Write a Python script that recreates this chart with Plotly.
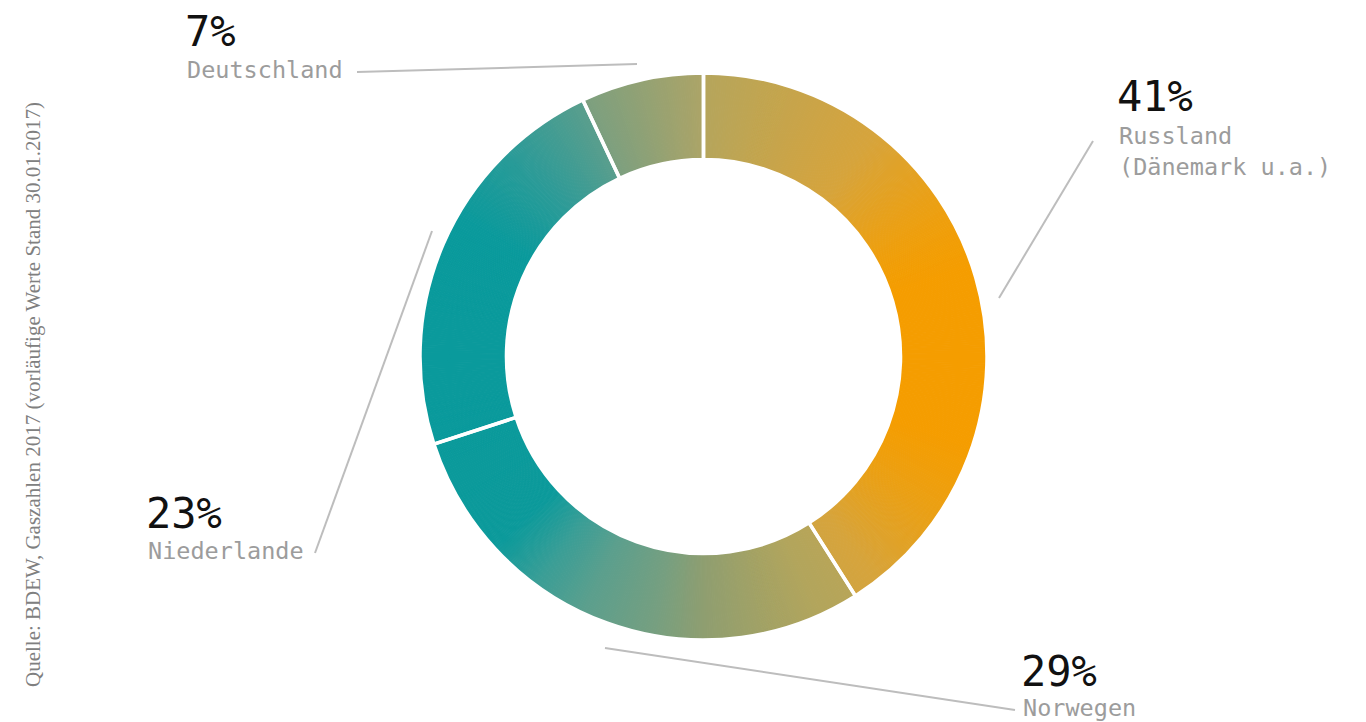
import plotly.graph_objects as go
import numpy as np

# ---- data ----
categories = ["Russland", "Norwegen", "Niederlande", "Deutschland"]
shares = [41, 29, 23, 7]
pct_labels = ["41%", "29%", "23%", "7%"]
name_labels = ["Russland<br>(Dänemark u.a.)", "Norwegen", "Niederlande", "Deutschland"]
source_text = "Quelle: BDEW, Gaszahlen 2017 (vorläufige Werte Stand 30.01.2017)"

# ---- style ----
W, H = 1366, 722
CX, CY, R = 703.5, 356.5, 283.5
HOLE = 0.695

# per-slice horizontal gradient stops: (dx in px from centre, colour)
grad_stops = {
    "Russland": [(0, "#b5a55c"), (147, "#d6a43c"), (200, "#eba014"), (228, "#f59d00"), (290, "#f59d00")],
    "Norwegen": [(-290, "#0a9a9c"), (-178, "#0c9a9b"), (-143, "#3a9e96"), (-103, "#5b9f8d"),
                 (-43, "#769f80"), (0, "#8f9e70"), (97, "#b2a55c"), (160, "#bea553")],
    "Niederlande": [(-290, "#0a9a9c"), (-210, "#0a9a9c"), (-160, "#2f9b97"), (-100, "#5c9e8c"), (-70, "#6e9e85")],
    "Deutschland": [(-130, "#6e9e86"), (0, "#aca467"), (10, "#aca467")],
}


def hex2rgb(h):
    h = h.lstrip("#")
    return np.array([int(h[i:i + 2], 16) for i in (0, 2, 4)], dtype=float)


def colour_at(cat, dx):
    st = grad_stops[cat]
    xs = [s[0] for s in st]
    cs = np.array([hex2rgb(s[1]) for s in st])
    rgb = [np.interp(dx, xs, cs[:, j]) for j in range(3)]
    return "rgb(%d,%d,%d)" % tuple(int(round(v)) for v in rgb)


# gradient layer: each share is rendered as many thin pieces (same total value)
SUB_PER_UNIT = 8
g_vals, g_cols = [], []
total = float(sum(shares))
cum = 0.0
rmid = R * (1 + HOLE) / 2
for cat, v in zip(categories, shares):
    n = int(v * SUB_PER_UNIT)
    piece = v / n
    for i in range(n):
        mid = cum + piece * (i + 0.5)
        theta = np.deg2rad(mid / total * 360.0)
        dx = rmid * np.sin(theta)
        g_vals.append(piece)
        g_cols.append(colour_at(cat, dx))
    cum += v

dom_x = [(CX - R) / W, (CX + R) / W]
dom_y = [1 - (CY + R) / H, 1 - (CY - R) / H]

fig = go.Figure()
fig.add_trace(go.Pie(
    values=g_vals, sort=False, direction="clockwise", rotation=0, hole=HOLE,
    marker=dict(colors=g_cols, line=dict(color=g_cols, width=1)),
    textinfo="none", hoverinfo="skip", showlegend=False,
    domain=dict(x=dom_x, y=dom_y),
))
fig.add_trace(go.Pie(
    labels=categories, values=shares, sort=False, direction="clockwise", rotation=0, hole=HOLE,
    marker=dict(colors=["rgba(0,0,0,0)"] * 4, line=dict(color="white", width=3.5)),
    textinfo="none", hoverinfo="label+percent", showlegend=False,
    domain=dict(x=dom_x, y=dom_y),
))


def px(x):
    return x / W


def py(y):
    return 1 - y / H


# label placement (pixels)
label_pos = {
    "Russland": (1117, 97, 151),
    "Norwegen": (1021, 671, 708),
    "Niederlande": (146, 513, 551),
    "Deutschland": (185, 31, 70),
}
leader_lines = {
    "Russland": ((999, 298), (1093, 141)),
    "Norwegen": ((605, 648), (1015, 710)),
    "Niederlande": ((315, 553), (432, 231)),
    "Deutschland": ((357, 72), (637, 64)),
}

annotations = []
shapes = []
for cat, pl, nl in zip(categories, pct_labels, name_labels):
    x0, yp, yn = label_pos[cat]
    annotations.append(dict(
        x=px(x0 - 2), y=py(yp), xref="paper", yref="paper", xanchor="left", yanchor="middle",
        text=pl, showarrow=False, font=dict(family="DejaVu Sans Mono", size=42, color="#111111")))
    annotations.append(dict(
        x=px(x0), y=py(yn), xref="paper", yref="paper", xanchor="left", yanchor="middle",
        text=nl, showarrow=False, align="left",
        font=dict(family="DejaVu Sans Mono", size=23.5, color="#9c9c9c")))
    (a, b), (c, d) = leader_lines[cat]
    shapes.append(dict(type="line", xref="paper", yref="paper",
                       x0=px(a), y0=py(b), x1=px(c), y1=py(d),
                       line=dict(color="#bdbdbd", width=2)))

annotations.append(dict(
    x=px(33), y=py(395), xref="paper", yref="paper", xanchor="center", yanchor="middle",
    text=source_text, textangle=-90, showarrow=False,
    font=dict(family="Liberation Serif", size=21, color="#808080")))

fig.update_layout(
    width=W, height=H, margin=dict(l=0, r=0, t=0, b=0),
    paper_bgcolor="white", plot_bgcolor="white",
    annotations=annotations, shapes=shapes, showlegend=False,
)

fig.write_html("out.html")
